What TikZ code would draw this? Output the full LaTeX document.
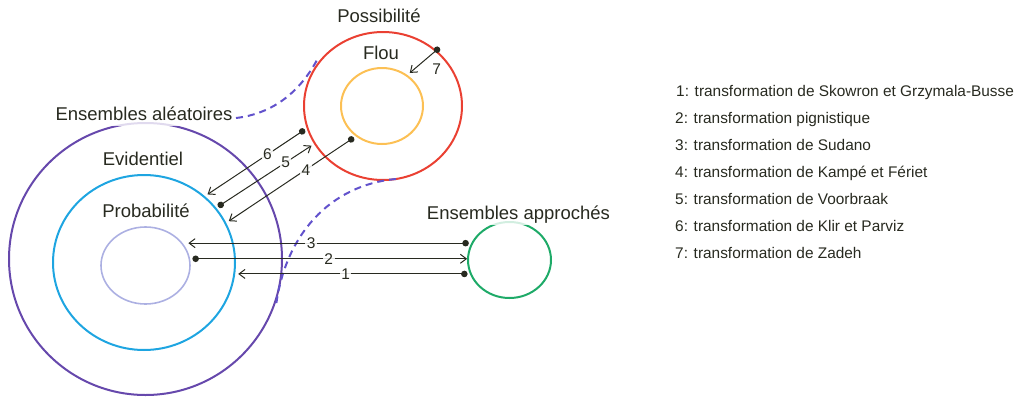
\documentclass[tikz,border=0pt]{standalone}
\usepackage{fontspec}
\setmainfont{Liberation Sans}
\usepackage{tikz}
\usetikzlibrary{arrows.meta,shapes.geometric}
\definecolor{ink}{RGB}{40,42,32}
\definecolor{randc}{RGB}{102,72,172}
\definecolor{evidc}{RGB}{30,165,225}
\definecolor{probc}{RGB}{172,176,226}
\definecolor{possc}{RGB}{234,64,50}
\definecolor{flouc}{RGB}{252,192,84}
\definecolor{apprc}{RGB}{30,170,104}
\definecolor{hullc}{RGB}{98,82,204}

\begin{document}
\begin{tikzpicture}[x=1pt,y=-1pt,
 ring/.style={ellipse,draw,line width=2pt,inner sep=0pt,outer sep=4pt},
 tag/.style={fill=white,fill opacity=0.8,text opacity=1,text=ink,inner sep=3pt,
   font=\fontsize{18.5}{20}\selectfont,text height=0.75em,text depth=0.22em},
 num/.style={fill=white,fill opacity=0.85,text opacity=1,text=ink,inner sep=1.5pt,
   font=\fontsize{15.5}{16}\selectfont},
 trans/.style={ink,line width=1pt,shorten <=-1pt,{Circle[length=6.5pt]}-{Straight Barb[length=6pt,width=9pt]}},
 legend/.style={anchor=west,text=ink,inner sep=2pt,font=\fontsize{15.4}{17}\selectfont,
   text height=0.75em,text depth=0.22em}]
 \useasboundingbox (0,0) rectangle (1018,399);
 % the families of sets
 \node[ring,draw=randc,minimum width=273pt,minimum height=272pt] (rand) at (145.5,259) {};
 \node[ring,draw=evidc,minimum width=182pt,minimum height=175pt] (evid) at (144,262.5) {};
 \node[ring,draw=probc,line width=1.6pt,minimum width=89pt,minimum height=77pt] (prob) at (145.5,265.5) {};
 \node[ring,draw=possc,minimum width=158pt,minimum height=148pt] (poss) at (383,106) {};
 \node[ring,draw=flouc,minimum width=82pt,minimum height=76pt] (flou) at (382,106) {};
 \node[ring,draw=apprc,minimum width=83pt,minimum height=76pt] (appr) at (509.5,260) {};
 % random sets also hold the possibility ring
 \draw[hullc,line width=2pt,dash pattern=on 7pt off 5pt] (236,118) .. controls (270,114) and (298,95) .. (317,60);
 \draw[hullc,line width=2pt,dash pattern=on 7pt off 5pt] (396,179) .. controls (330,185) and (285,235) .. (276,306);
 % transformations
 \draw[trans] (poss.197) -- node[num,pos=0.38]{6} (evid.47);
 \draw[trans] (evid.37) -- node[num,pos=0.72]{5} (poss.209);
 \draw[trans] (flou.228) -- node[num,pos=0.38]{4} (evid.26);
 \draw[trans] (appr.158) -- node[num,pos=0.56]{3} (prob.25 |- appr.158);
 \draw[trans,shorten >=-3pt] (prob.8) -- node[num,pos=0.5]{2} (appr.176 |- prob.8);
 \draw[trans] (appr.198) -- node[num,pos=0.53]{1} (evid.353 |- appr.198);
 \draw[trans] (poss.46) -- node[num,pos=0.5,below right=1pt,xshift=5pt]{7} (flou.50);
 % names
 \node[tag] (lbl-rand) at (144,118) {Ensembles aléatoires};
 \node[tag] (lbl-evid) at (143,163) {Evidentiel};
 \node[tag] (lbl-prob) at (146,215) {Probabilité};
 \node[tag] (lbl-poss) at (379,20) {Possibilité};
 \node[tag] (lbl-flou) at (381,57) {Flou};
 \node[tag] (lbl-appr) at (518.5,217) {Ensembles approchés};
 % key
 \node[legend] (key1) at (674,94) {1: transformation de Skowron et Grzymala-Busse};
 \node[legend] (key2) at (673,121) {2: transformation pignistique};
 \node[legend] (key3) at (673,148) {3: transformation de Sudano};
 \node[legend] (key4) at (673,175) {4: transformation de Kampé et Fériet};
 \node[legend] (key5) at (673,202) {5: transformation de Voorbraak};
 \node[legend] (key6) at (673,229) {6: transformation de Klir et Parviz};
 \node[legend] (key7) at (673,256) {7: transformation de Zadeh};
\end{tikzpicture}
\end{document}
